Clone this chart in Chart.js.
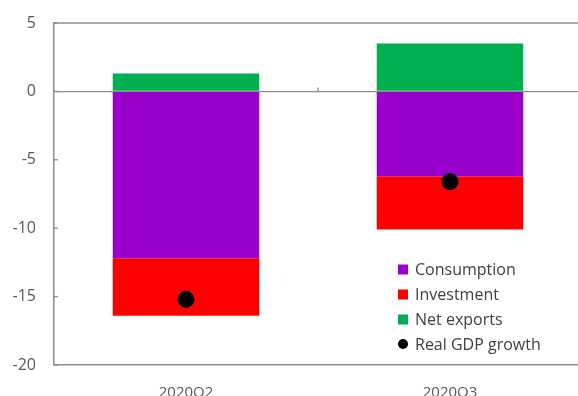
<!DOCTYPE html>
<html>
<head>
<meta charset="utf-8">
<script src="https://cdn.jsdelivr.net/npm/chart.js@4/dist/chart.umd.min.js"></script>
<style>
  html, body { margin: 0; padding: 0; background: #fff; overflow: hidden; }
  #wrap { width: 582px; height: 396px; }
</style>
</head>
<body>
<div id="wrap"><canvas id="c" width="582" height="396"></canvas></div>
<script>
const categories = ['2020Q2', '2020Q3'];
const consumption = [-12.2, -6.2];
const investment = [-4.2, -3.9];
const netExports = [1.3, 3.5];
const realGDP = [-15.2, -6.6];
const yTicks = [5, 0, -5, -10, -15, -20];

const FONT = '"Open Sans", "Segoe UI", sans-serif';
const AXIS = '#8c8c8c';

const extras = {
  id: 'extras',
  afterDraw(chart) {
    const ctx = chart.ctx;
    const y = chart.scales.y, x = chart.scales.x;
    const area = chart.chartArea;
    ctx.save();
    ctx.strokeStyle = AXIS;
    ctx.lineWidth = 1.3;
    // top border line at max value
    const ty = y.getPixelForValue(5);
    ctx.beginPath();
    ctx.moveTo(area.left, ty);
    ctx.lineTo(chart.width, ty);
    ctx.stroke();
    // inner tick marks on y axis
    yTicks.forEach(v => {
      const py = y.getPixelForValue(v);
      ctx.beginPath();
      ctx.moveTo(area.left, py);
      ctx.lineTo(area.left + 4, py);
      ctx.stroke();
    });
    // category boundary tick on zero line
    const zy = y.getPixelForValue(0);
    const bx = (x.getPixelForValue(0) + x.getPixelForValue(1)) / 2;
    ctx.beginPath();
    ctx.moveTo(bx, zy);
    ctx.lineTo(bx, zy - 4);
    ctx.stroke();
    // legend inside plot
    const items = chart.data.datasets.map(d => ({
      label: d.label, color: d.legendColor, dot: d.type === 'line'
    }));
    const lx = 398, ys = [269, 294, 319, 344];
    ctx.font = '16px ' + FONT;
    ctx.textBaseline = 'middle';
    ctx.textAlign = 'left';
    items.forEach((it, k) => {
      ctx.fillStyle = it.color;
      if (it.dot) {
        ctx.beginPath();
        ctx.arc(lx + 5, ys[k], 5, 0, Math.PI * 2);
        ctx.fill();
      } else {
        ctx.fillRect(lx, ys[k] - 4.5, 10, 10);
      }
      ctx.fillStyle = '#404040';
      ctx.fillText(it.label, lx + 17, ys[k] + 1);
    });
    ctx.restore();
  }
};

new Chart(document.getElementById('c'), {
  data: {
    labels: categories,
    datasets: [
      { type: 'bar', label: 'Consumption', data: consumption, backgroundColor: '#9900CC', legendColor: '#9900CC', order: 2 },
      { type: 'bar', label: 'Investment', data: investment, backgroundColor: '#FF0000', legendColor: '#FF0000', order: 2 },
      { type: 'bar', label: 'Net exports', data: netExports, backgroundColor: '#00B050', legendColor: '#00B050', order: 2 },
      { type: 'line', label: 'Real GDP growth', data: realGDP, stack: 'gdp', showLine: false,
        pointRadius: 8, pointHoverRadius: 8, pointBackgroundColor: '#000', pointBorderColor: '#000',
        legendColor: '#000', order: 0 }
    ]
  },
  options: {
    responsive: false,
    animation: false,
    devicePixelRatio: 1,
    layout: { autoPadding: false, padding: { top: 23, right: 0, left: 0, bottom: 0 } },
    datasets: { bar: { categoryPercentage: 1, barPercentage: 0.555 } },
    plugins: { legend: { display: false }, tooltip: { enabled: false } },
    scales: {
      x: {
        stacked: true,
        grid: { display: false },
        border: { display: true, color: AXIS, width: 1.5 },
        ticks: { color: '#595959', font: { family: FONT, size: 15 }, padding: 11 },
        afterFit(s) { s.height = 31; s.paddingLeft = 0; s.paddingRight = 0; }
      },
      y: {
        stacked: true,
        min: -20, max: 5,
        ticks: { stepSize: 5, color: '#595959', font: { family: FONT, size: 16 }, padding: 18 },
        grid: {
          drawTicks: false,
          color: ctx => (ctx.tick && ctx.tick.value === 0) ? AXIS : 'rgba(0,0,0,0)',
          lineWidth: 1.3
        },
        border: { display: true, color: AXIS, width: 1.5 },
        afterFit(s) { s.width = 54; s.paddingTop = 0; s.paddingBottom = 0; }
      }
    }
  },
  plugins: [extras]
});
</script>
</body>
</html>
